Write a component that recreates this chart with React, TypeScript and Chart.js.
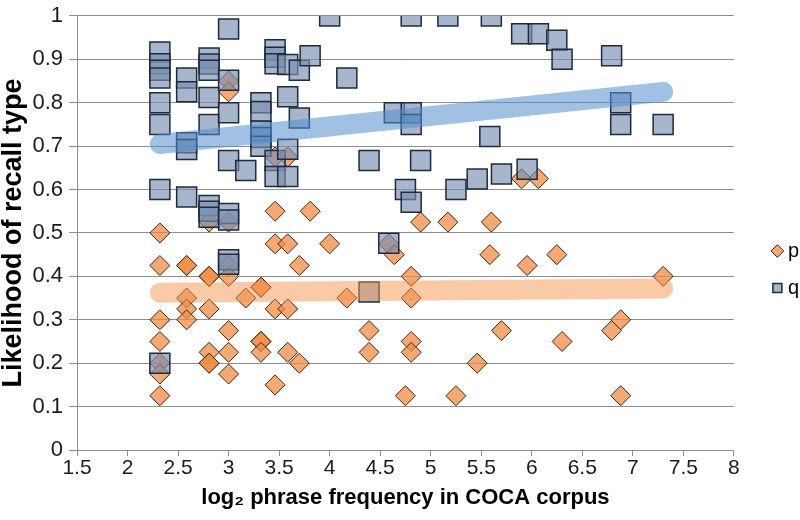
import React, { useEffect, useRef } from 'react';
import { Chart, registerables } from 'chart.js';

Chart.register(...registerables);

// ---- data ----
const seriesLabels = ['p', 'q'];
const xTitle = 'log\u2082 phrase frequency in COCA corpus';
const yTitle = 'Likelihood of recall type';

const pX = [
  2.32, 2.32, 2.32, 2.32, 2.32, 2.32, 2.32,
  2.585, 2.585, 2.585, 2.585, 2.585,
  2.807, 2.807, 2.807, 2.807, 2.807, 2.807, 2.807,
  3, 3, 3, 3, 3, 3, 3, 3,
  3.17,
  3.32, 3.32, 3.32, 3.32, 3.32,
  3.46, 3.46, 3.46, 3.46, 3.46,
  3.585, 3.585, 3.585, 3.585,
  3.7, 3.7,
  3.807,
  4,
  4.17,
  4.39, 4.39,
  4.585,
  4.64,
  4.75,
  4.807, 4.807, 4.807, 4.807,
  4.9,
  5.17,
  5.25,
  5.46,
  5.585,
  5.6,
  5.7,
  5.9, 5.954,
  6.066,
  6.248,
  6.3,
  6.79,
  6.88, 6.88,
  7.3,
];
const pY = [
  0.5, 0.425, 0.3, 0.25, 0.2, 0.175, 0.125,
  0.425, 0.425, 0.35, 0.325, 0.3,
  0.525, 0.4, 0.4, 0.325, 0.225, 0.2, 0.2,
  0.85, 0.825, 0.525, 0.425, 0.4, 0.275, 0.225, 0.175,
  0.35,
  0.375, 0.375, 0.25, 0.25, 0.225,
  0.675, 0.55, 0.475, 0.325, 0.15,
  0.675, 0.475, 0.325, 0.225,
  0.425, 0.2,
  0.55,
  0.475,
  0.35,
  0.275, 0.225,
  0.475,
  0.45,
  0.125,
  0.4, 0.35, 0.25, 0.225,
  0.525,
  0.525,
  0.125,
  0.2,
  0.45,
  0.525,
  0.275,
  0.625, 0.425,
  0.625,
  0.45,
  0.25,
  0.275,
  0.3, 0.125,
  0.4,
];

const qX = [
  2.32, 2.32, 2.32, 2.32, 2.32, 2.32, 2.32, 2.32,
  2.585, 2.585, 2.585, 2.585, 2.585,
  2.807, 2.807, 2.807, 2.807, 2.807, 2.807, 2.807, 2.807,
  3, 3, 3, 3, 3, 3, 3, 3,
  3.17,
  3.32, 3.32, 3.32, 3.32, 3.32,
  3.46, 3.46, 3.46, 3.46, 3.46,
  3.585, 3.585, 3.585, 3.585,
  3.7, 3.7,
  3.807,
  4,
  4.17,
  4.39, 4.39,
  4.585,
  4.64,
  4.75,
  4.807, 4.807, 4.807, 4.807,
  4.9,
  5.17,
  5.25,
  5.46,
  5.585, 5.6,
  5.7,
  5.9,
  5.954,
  6.066,
  6.248,
  6.3,
  6.79,
  6.88, 6.88,
  7.3,
];
const qY = [
  0.917, 0.89, 0.875, 0.857, 0.8, 0.75, 0.6, 0.2,
  0.857, 0.825, 0.708, 0.692, 0.583,
  0.903, 0.889, 0.875, 0.812, 0.75, 0.563, 0.55, 0.536,
  0.97, 0.852, 0.777, 0.667, 0.545, 0.53, 0.438, 0.428,
  0.644,
  0.8, 0.78, 0.735, 0.72, 0.7,
  0.922, 0.905, 0.89, 0.667, 0.63,
  0.888, 0.814, 0.693, 0.63,
  0.875, 0.765,
  0.908,
  1.0,
  0.857,
  0.667, 0.364,
  0.476,
  0.777,
  0.6,
  1.0, 0.777, 0.75, 0.571,
  0.667,
  1.0,
  0.6,
  0.624,
  0.722, 1.0,
  0.636,
  0.959,
  0.647,
  0.959,
  0.944,
  0.9,
  0.908,
  0.8, 0.75,
  0.75,
];

const trendX = [2.32, 7.3];
const pTrendY = [0.362, 0.372];
const qTrendY = [0.705, 0.825];

// ---- styles ----
const FONT = '"Liberation Sans", Arial, sans-serif';
const GRID = '#8e8e8e';
const LEGEND_DX = 26;
const LEGEND_DY = 4.5;

const legendShift = {
  id: 'legendShift',
  afterLayout(chart: any) {
    const lg = chart.legend;
    if (lg) {
      lg.left += LEGEND_DX;
      lg.right += LEGEND_DX;
      lg.top += LEGEND_DY;
      lg.bottom += LEGEND_DY;
    }
  },
};

function pts(xs: number[], ys: number[]) {
  return xs.map((x, i) => ({ x, y: ys[i] }));
}

const fmt = (v: any) => String(Math.round(Number(v) * 10) / 10);

export default function App() {
  const ref = useRef<HTMLCanvasElement | null>(null);

  useEffect(() => {
    if (!ref.current) return;
    const chart = new Chart(ref.current, {
      type: 'scatter',
      data: {
        datasets: [
          {
            label: seriesLabels[0],
            data: pts(pX, pY),
            pointStyle: 'rectRot',
            pointRadius: 10,
            pointHoverRadius: 10,
            backgroundColor: 'rgba(240,140,70,0.75)',
            borderColor: '#3a2818',
            borderWidth: 1,
            order: 2,
          },
          {
            label: seriesLabels[1],
            data: pts(qX, qY),
            pointStyle: 'rect',
            pointRadius: 14.14,
            pointHoverRadius: 14.14,
            backgroundColor: 'rgba(120,143,176,0.65)',
            borderColor: '#1f2b3a',
            borderWidth: 1.5,
            order: 1,
          },
          {
            label: 'trend-p',
            data: pts(trendX, pTrendY),
            showLine: true,
            pointRadius: 0,
            borderWidth: 20,
            borderCapStyle: 'round',
            borderColor: 'rgba(245,150,80,0.5)',
            backgroundColor: 'rgba(245,150,80,0.5)',
            order: 0,
          },
          {
            label: 'trend-q',
            data: pts(trendX, qTrendY),
            showLine: true,
            pointRadius: 0,
            borderWidth: 20,
            borderCapStyle: 'round',
            borderColor: 'rgba(82,140,205,0.55)',
            backgroundColor: 'rgba(82,140,205,0.55)',
            order: 0,
          },
        ],
      } as any,
      options: {
        animation: false,
        responsive: false,
        events: [],
        layout: { padding: { top: 10, right: 17, bottom: 0, left: 0 } },
        plugins: {
          tooltip: { enabled: false },
          legend: {
            position: 'right',
            labels: {
              usePointStyle: true,
              boxWidth: 1,
              boxHeight: 9,
              padding: 17,
              color: '#000',
              font: { family: FONT, size: 20 },
              filter: (item: any) => seriesLabels.includes(item.text),
              sort: (a: any, b: any) => a.datasetIndex - b.datasetIndex,
            },
          },
        },
        scales: {
          x: {
            type: 'linear',
            min: 1.5,
            max: 8,
            ticks: {
              stepSize: 0.5,
              color: '#1a1a1a',
              padding: 2,
              font: { family: FONT, size: 21, lineHeight: 1 },
              callback: fmt,
            },
            grid: { drawOnChartArea: false, drawTicks: true, tickLength: 6, color: GRID },
            border: { color: GRID },
            title: {
              display: true,
              text: xTitle,
              color: '#000',
              font: { family: FONT, size: 22, weight: 'bold', lineHeight: 1.2 },
              padding: { top: 0, bottom: 9 },
            },
            afterFit: (s: any) => {
              s.height = 70;
            },
          },
          y: {
            type: 'linear',
            min: 0,
            max: 1,
            ticks: {
              stepSize: 0.1,
              color: '#1a1a1a',
              padding: 6,
              font: { family: FONT, size: 22, lineHeight: 0.9 },
              callback: fmt,
            },
            grid: { color: GRID, tickLength: 8, drawTicks: true },
            border: { color: GRID },
            title: {
              display: true,
              text: yTitle,
              color: '#000',
              font: { family: FONT, size: 27, weight: 'bold', lineHeight: 1 },
              padding: { top: 0, bottom: 0 },
            },
            afterFit: (s: any) => {
              s.width = 77;
            },
          },
        },
      } as any,
      plugins: [legendShift],
    });
    return () => chart.destroy();
  }, []);

  return (
    <div style={{ position: 'fixed', left: 0, top: 0, width: 800, height: 520, background: '#fff' }}>
      <canvas ref={ref} width={800} height={520} />
    </div>
  );
}
